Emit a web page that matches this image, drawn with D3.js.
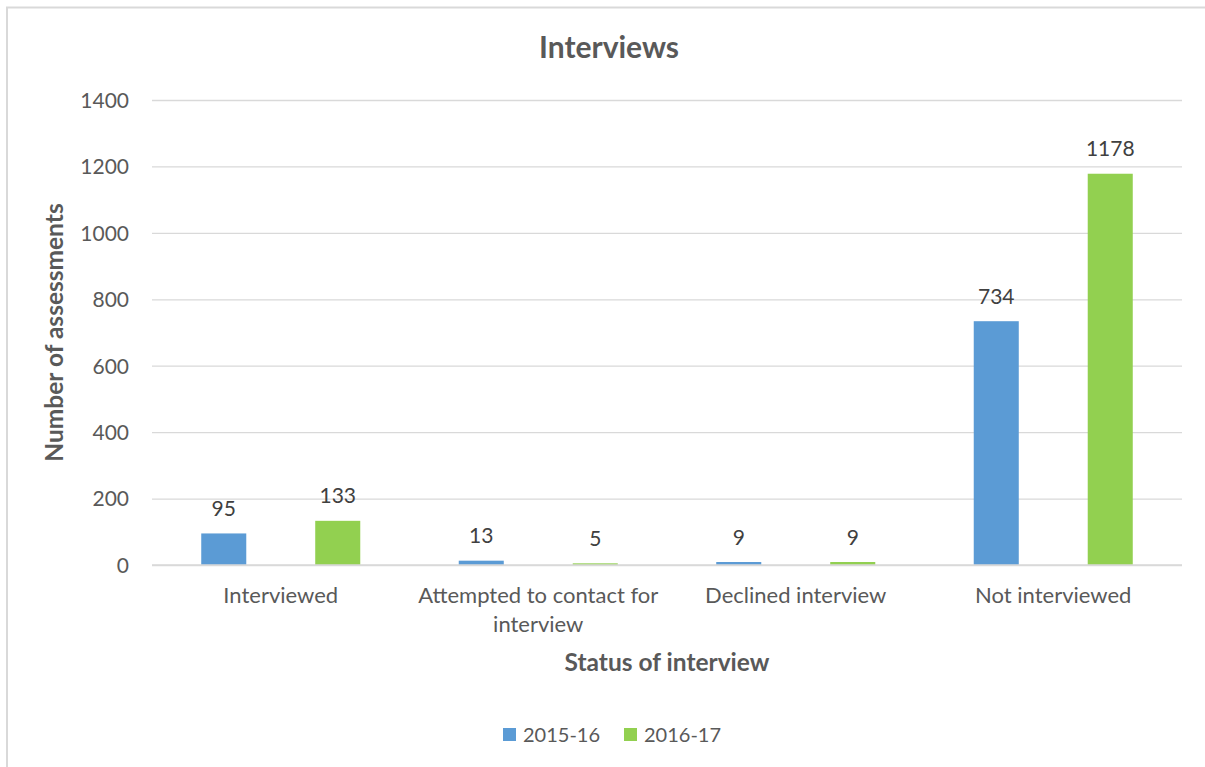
<!DOCTYPE html>
<html><head><meta charset="utf-8">
<script src="https://cdn.jsdelivr.net/npm/d3@7"></script>
<style>
html,body{margin:0;padding:0;background:#fff;}
svg{display:block;font-family:Lato, "Open Sans", sans-serif;}
</style></head>
<body><svg id="c" width="1205" height="767"></svg>
<script>
const categories = [["Interviewed"], ["Attempted to contact for", "interview"], ["Declined interview"], ["Not interviewed"]];
const categoryKeys = ["Interviewed", "Attempted to contact for interview", "Declined interview", "Not interviewed"];
const seriesNames = ["2015-16", "2016-17"];
const values2015 = [95, 13, 9, 734];
const values2016 = [133, 5, 9, 1178];
const yTicks = [0, 200, 400, 600, 800, 1000, 1200, 1400];
const colors = ["#5B9BD5", "#92D050"];

const svg = d3.select("#c");
const m = {l:152, r:1182, t:100, b:565};
const textCol = "#595959";

// border
svg.append("rect").attr("x",7).attr("y",7.5).attr("width",1300).attr("height",900)
  .attr("fill","none").attr("stroke","#D9D9D9").attr("stroke-width",2);

const y = d3.scaleLinear().domain([0,1400]).range([m.b, m.t]);
const x0 = d3.scaleBand().domain(categoryKeys).range([m.l, m.r]).padding(0);
const x1 = d3.scaleBand().domain(seriesNames).range([0, x0.bandwidth()]).paddingInner(0.605).paddingOuter(0.432);

// gridlines
const yAxis = d3.axisLeft(y).tickValues(yTicks).tickSize(-(m.r-m.l)).tickPadding(23).tickFormat(d3.format("d"));
const ga = svg.append("g").attr("transform",`translate(${m.l},0)`).call(yAxis);
ga.select(".domain").remove();
ga.selectAll(".tick line").attr("stroke","#D9D9D9").attr("stroke-width",1.3);
ga.selectAll(".tick text").attr("fill",textCol).style("font-size","21px").attr("dy","0.35em").style("font-family","Lato");

// bars
const data = categoryKeys.map((k,i)=>({key:k, vals:[values2015[i], values2016[i]]}));
const groups = svg.append("g").selectAll("g").data(data).join("g")
  .attr("transform", d=>`translate(${x0(d.key)},0)`);
groups.selectAll("rect").data(d=>d.vals.map((v,j)=>({s:seriesNames[j], v, j}))).join("rect")
  .attr("x", d=>x1(d.s)).attr("width", x1.bandwidth())
  .attr("y", d=>y(d.v)).attr("height", d=>y(0)-y(d.v))
  .attr("fill", d=>colors[d.j]);
groups.selectAll("text").data(d=>d.vals.map((v,j)=>({s:seriesNames[j], v, j}))).join("text")
  .attr("x", d=>x1(d.s)+x1.bandwidth()/2).attr("y", d=>y(d.v)-17.5)
  .attr("text-anchor","middle").attr("fill","#404040").style("font-size","21px")
  .text(d=>d.v);

// baseline
svg.append("line").attr("x1",m.l).attr("x2",m.r).attr("y1",y(0)).attr("y2",y(0))
  .attr("stroke","#D9D9D9").attr("stroke-width",1.3);

// category labels
const cl = svg.append("g").selectAll("text").data(categoryKeys).join("text")
  .attr("x", d=>x0(d)+x0.bandwidth()/2).attr("y", 603)
  .attr("text-anchor","middle").attr("fill",textCol).style("font-size","22px");
cl.each(function(d,i){
  const t = d3.select(this);
  categories[i].forEach((line,li)=>{
    t.append("tspan").attr("x", x0(d)+x0.bandwidth()/2).attr("dy", li===0?0:29).text(line);
  });
});

// title
svg.append("text").attr("x",609).attr("y",58).attr("text-anchor","middle")
  .attr("fill",textCol).style("font-size","30px").style("font-weight","bold").text("Interviews");

// axis titles
svg.append("text").attr("transform",`translate(63,${(m.t+m.b)/2}) rotate(-90)`)
  .attr("text-anchor","middle").attr("fill",textCol).style("font-size","24.5px").style("font-weight","bold")
  .text("Number of assessments");
svg.append("text").attr("x",(m.l+m.r)/2).attr("y",671).attr("text-anchor","middle")
  .attr("fill",textCol).style("font-size","24.5px").style("font-weight","bold").text("Status of interview");

// legend
const legX = [503, 624];
const lg = svg.append("g").selectAll("g").data(seriesNames).join("g")
  .attr("transform",(d,i)=>`translate(${legX[i]},728)`);
lg.append("rect").attr("width",13).attr("height",13).attr("fill",(d,i)=>colors[i]);
lg.append("text").attr("x",20).attr("y",13.5).attr("fill",textCol).style("font-size","20px").text(d=>d);
</script></body></html>
